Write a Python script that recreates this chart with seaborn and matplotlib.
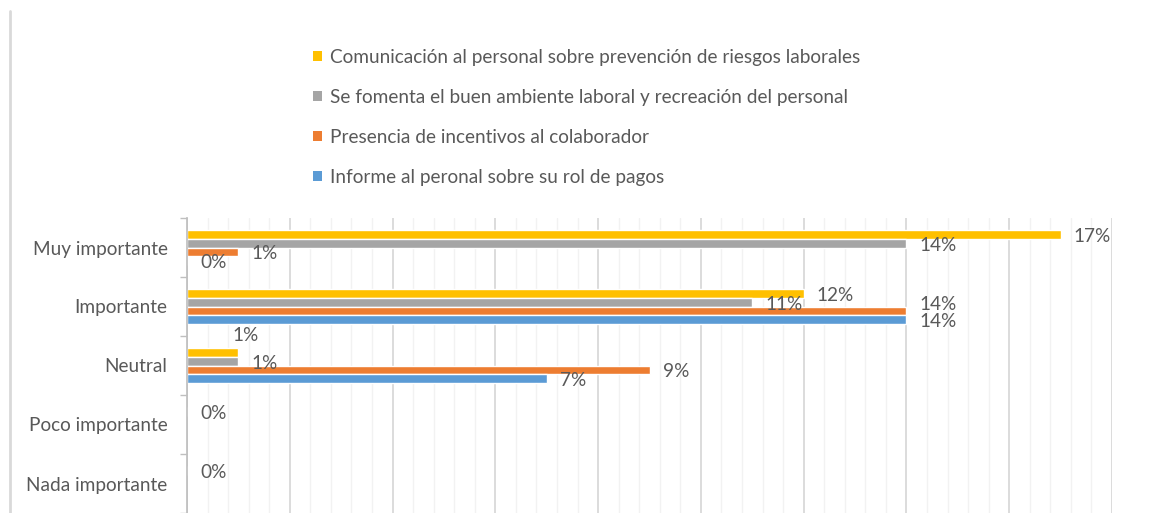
import matplotlib
matplotlib.use("Agg")
import matplotlib.pyplot as plt
from matplotlib.lines import Line2D
from matplotlib.patches import Patch
from matplotlib.ticker import MultipleLocator
import pandas as pd
import seaborn as sns

# --- data (values in %) ---
categorias = ["Muy importante", "Importante", "Neutral", "Poco importante", "Nada importante"]
series = ["Comunicación al personal sobre prevención de riesgos laborales",
          "Se fomenta el buen ambiente laboral y recreación del personal",
          "Presencia de incentivos al colaborador",
          "Informe al peronal sobre su rol de pagos"]
comunicacion = [17, 12, 1, 0, 0]
ambiente = [14, 11, 1, None, None]
incentivos = [1, 14, 9, None, None]
informe = [0, 14, 7, None, None]
colores = ["#FFC000", "#A5A5A5", "#ED7D31", "#5B9BD5"]

df = pd.DataFrame({"categoria": categorias * 4,
                   "serie": [s for s in series for _ in categorias],
                   "valor": comunicacion + ambiente + incentivos + informe}).dropna()

# label nudges (px) where the original moved labels to avoid overlaps
nudges = {("Importante", series[2]): (0, 8),
          ("Neutral", series[0]): (-19, 19)}

sns.set_theme(style="white")
plt.rcParams["font.family"] = ["Lato", "DejaVu Sans"]
GREY = "#595959"
FS = 13.7

fig = plt.figure(figsize=(11.51, 5.13), dpi=100)
ax = fig.add_axes([187 / 1151, 0.0, 925 / 1151, 1 - 218 / 513])

sns.barplot(data=df, y="categoria", x="valor", hue="serie", order=categorias,
            hue_order=series, palette=colores, orient="h", width=0.61,
            errorbar=None, legend=False, saturation=1, ax=ax)

ax.set_xlim(0, 18)
ax.set_ylim(4.5, -0.5)
ax.xaxis.set_major_locator(MultipleLocator(2))
ax.xaxis.set_minor_locator(MultipleLocator(0.4))
ax.grid(axis="x", which="minor", color="#F2F2F2", linewidth=1.0)
ax.grid(axis="x", which="major", color="#D9D9D9", linewidth=1.3)
ax.set_axisbelow(True)
ax.tick_params(axis="x", which="both", bottom=False, labelbottom=False)
ax.set_xlabel("")
ax.set_ylabel("")
ax.set_yticks(range(len(categorias)))
ax.set_yticks([i - 0.5 for i in range(len(categorias) + 1)], minor=True)
ax.tick_params(axis="y", which="major", length=0, pad=14, labelsize=FS, labelcolor=GREY)
ax.tick_params(axis="y", which="minor", left=True, length=5, width=1, color="#BFBFBF")
for side in ["top", "right", "bottom"]:
    ax.spines[side].set_visible(False)
ax.spines["left"].set_color("#BFBFBF")

# data labels
for serie, cont in zip(series, ax.containers):
    for p in cont:
        yc = p.get_y() + p.get_height() / 2
        cat = categorias[int(round(yc))]
        dx, dy = nudges.get((cat, serie), (0, 0))
        ax.annotate(f"{p.get_width():.0f}%", (p.get_width(), yc),
                    xytext=((13 + dx) * 0.72, (-2 + dy) * 0.72), textcoords="offset points",
                    ha="left", va="center", fontsize=FS, color=GREY, annotation_clip=False)

handles = [Patch(facecolor=c, edgecolor="none", label=s) for s, c in zip(series, colores)]
fig.legend(handles=handles, loc="upper left", bbox_to_anchor=(313 / 1151, 1 - 49 / 513),
           frameon=False, fontsize=FS, labelcolor=GREY, handlelength=0.45, handleheight=0.45,
           handletextpad=0.45, labelspacing=1.2, borderpad=0, borderaxespad=0)

# chart area border on the left
fig.add_artist(Line2D([10 / 1151, 10 / 1151], [0, 1 - 11 / 513],
                      transform=fig.transFigure, color="#D9D9D9", linewidth=2))

fig.savefig("out.png", dpi=100)
